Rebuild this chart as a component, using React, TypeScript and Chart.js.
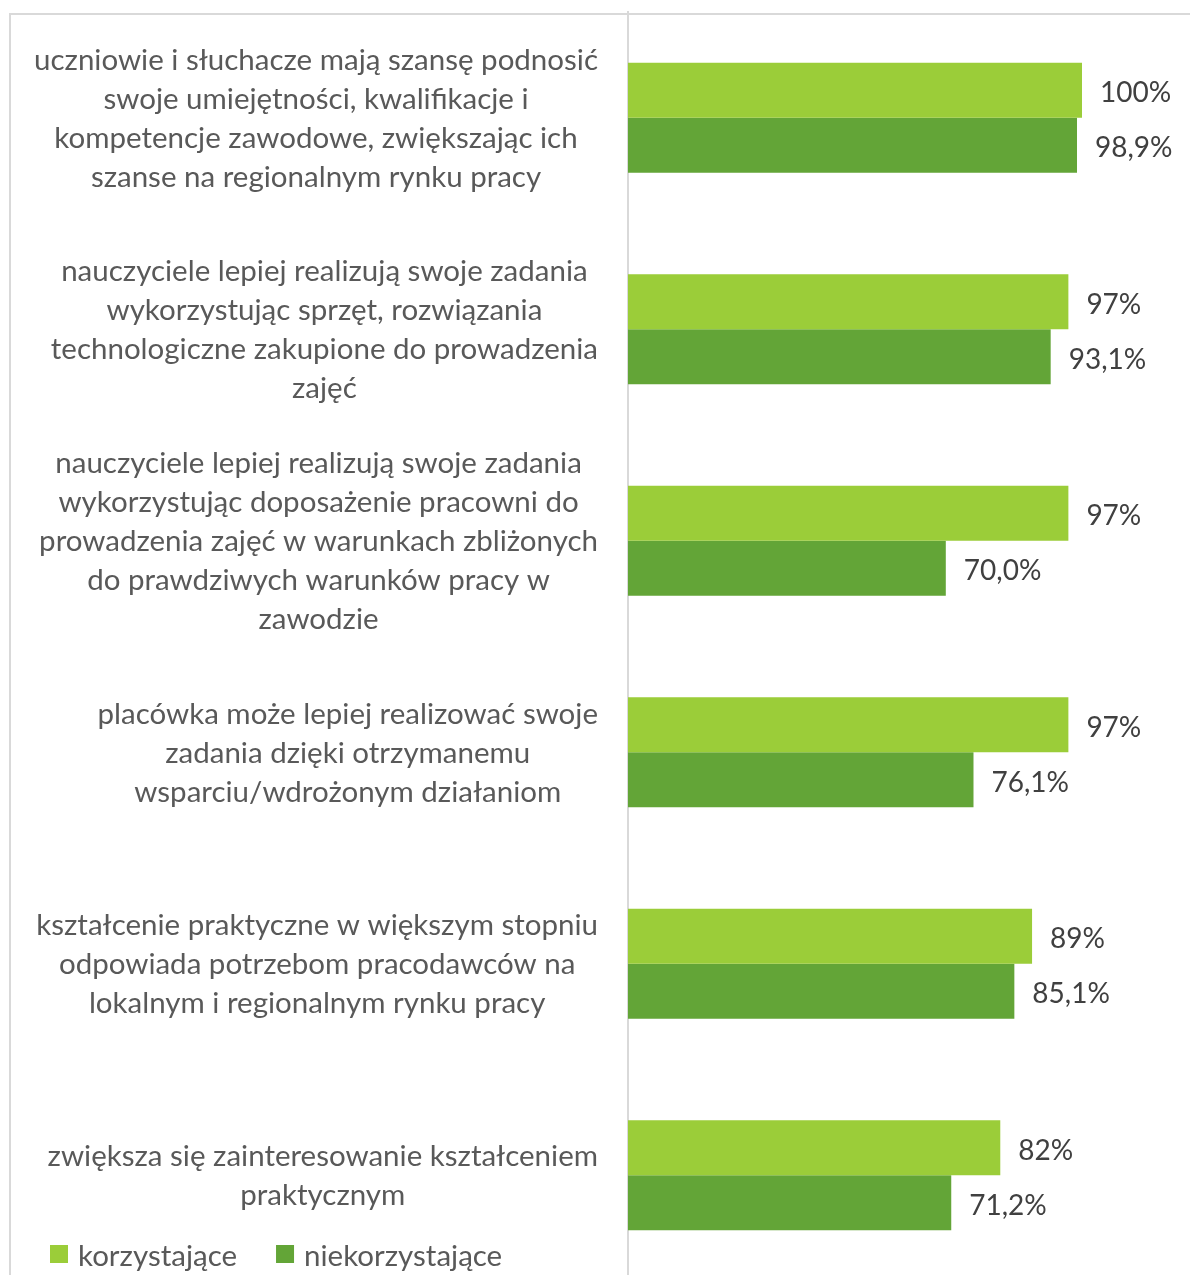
import React, { useEffect, useRef } from 'react';
import { Chart, registerables } from 'chart.js';

Chart.register(...registerables);

const categoryLines: string[][] = [
  ['uczniowie i słuchacze mają szansę podnosić', 'swoje umiejętności, kwalifikacje i', 'kompetencje zawodowe, zwiększając ich', 'szanse na regionalnym rynku pracy'],
  ['nauczyciele lepiej realizują swoje zadania', 'wykorzystując sprzęt, rozwiązania', 'technologiczne zakupione do prowadzenia', 'zajęć'],
  ['nauczyciele lepiej realizują swoje zadania', 'wykorzystując doposażenie pracowni do', 'prowadzenia zajęć w warunkach zbliżonych', 'do prawdziwych warunków pracy w', 'zawodzie'],
  ['placówka może lepiej realizować swoje', 'zadania dzięki otrzymanemu', 'wsparciu/wdrożonym działaniom'],
  ['kształcenie praktyczne w większym stopniu', 'odpowiada potrzebom pracodawców na', 'lokalnym i regionalnym rynku pracy'],
  ['zwiększa się zainteresowanie kształceniem', 'praktycznym'],
];

const seriesNames = ['korzystające', 'niekorzystające'];
const korzystajace = [100, 97, 97, 97, 89, 82];
const niekorzystajace = [98.9, 93.1, 70.0, 76.1, 85.1, 71.2];
const seriesColors = ['#9BCD39', '#63A537'];

const FONT = 'Lato';
const SIZE = 29.5;
const VALUE_SIZE = 28;
const LINE_H = 39;

const formatters = [
  (v: number) => `${Math.round(v)}%`,
  (v: number) => `${v.toFixed(1).replace('.', ',')}%`,
];

const drawPlugin = {
  id: 'customText',
  afterDatasetsDraw(chart: any) {
    const ctx = chart.ctx as CanvasRenderingContext2D;
    const yScale = chart.scales.y;
    const left = chart.chartArea.left;
    ctx.save();
    ctx.font = `${SIZE}px ${FONT}`;
    ctx.textBaseline = 'middle';
    // category labels: each block right-aligned by its widest line, lines centered
    ctx.fillStyle = '#595959';
    ctx.textAlign = 'center';
    categoryLines.forEach((lines, i) => {
      const cy = yScale.getPixelForValue(i) + 1;
      const widest = Math.max(...lines.map((l) => ctx.measureText(l).width));
      const cx = left - 30 - widest / 2;
      const y0 = cy - ((lines.length - 1) * LINE_H) / 2;
      lines.forEach((l, j) => ctx.fillText(l, cx, y0 + j * LINE_H));
    });
    // data labels
    ctx.font = `${VALUE_SIZE}px ${FONT}`;
    ctx.textAlign = 'left';
    ctx.fillStyle = '#404040';
    chart.data.datasets.forEach((ds: any, di: number) => {
      const meta = chart.getDatasetMeta(di);
      meta.data.forEach((bar: any, i: number) => {
        ctx.fillText(formatters[di](ds.data[i]), bar.x + 18, bar.y + 3);
      });
    });
    // legend
    ctx.font = `${SIZE}px ${FONT}`;
    let x = 50;
    const ly = 1254;
    chart.data.datasets.forEach((ds: any) => {
      ctx.fillStyle = ds.backgroundColor;
      ctx.fillRect(x, ly - 9, 18, 18);
      ctx.fillStyle = '#595959';
      ctx.fillText(ds.label, x + 28, ly + 2);
      x += 28 + ctx.measureText(ds.label).width + 39;
    });
    ctx.restore();
  },
};

export default function App() {
  const ref = useRef<HTMLCanvasElement | null>(null);
  useEffect(() => {
    if (!ref.current) return;
    const chart = new Chart(ref.current, {
      type: 'bar',
      data: {
        labels: categoryLines.map((l) => l.join(' ')),
        datasets: [
          { label: seriesNames[0], data: korzystajace, backgroundColor: seriesColors[0], categoryPercentage: 0.52, barPercentage: 1 },
          { label: seriesNames[1], data: niekorzystajace, backgroundColor: seriesColors[1], categoryPercentage: 0.52, barPercentage: 1 },
        ],
      },
      options: {
        indexAxis: 'y',
        animation: false,
        responsive: false,
        maintainAspectRatio: false,
        layout: { padding: { top: 12, right: 108, left: 0, bottom: 0 } },
        plugins: { legend: { display: false }, tooltip: { enabled: false } },
        scales: {
          x: { display: false, min: 0, max: 100 },
          y: {
            grid: { display: false },
            border: { display: true, color: '#d9d9d9', width: 2 },
            ticks: { display: false },
            afterFit: (s: any) => { s.width = 628; },
          },
        },
      },
      plugins: [drawPlugin],
    } as any);
    return () => chart.destroy();
  }, []);
  return (
    <div style={{ position: 'fixed', left: 0, top: 0, width: 1190, height: 1275, overflow: 'hidden', background: '#fff' }}>
      <div style={{ position: 'absolute', left: 9, top: 13, width: 1200, height: 1300, borderLeft: '2px solid #d9d9d9', borderTop: '2px solid #d9d9d9' }} />
      <canvas ref={ref} width={1190} height={1281} style={{ position: 'absolute', left: 0, top: 0, width: 1190, height: 1281 }} />
    </div>
  );
}
